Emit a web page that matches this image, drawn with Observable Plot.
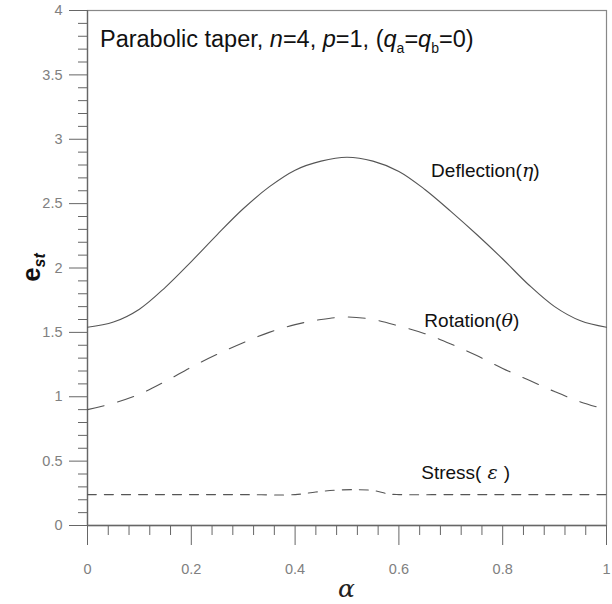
<!DOCTYPE html>
<html>
<head>
<meta charset="utf-8">
<script src="https://cdn.jsdelivr.net/npm/d3@7"></script>
<script src="https://cdn.jsdelivr.net/npm/@observablehq/plot@0.6"></script>
<style>
  html, body { margin: 0; padding: 0; background: #fff; }
  #chart { width: 612px; height: 604px; }
  svg { font-family: "Liberation Sans", Arial, sans-serif; }
</style>
</head>
<body>
<div id="chart"></div>
<script>
// --- data ---
const alpha = [0, 0.05, 0.1, 0.15, 0.2, 0.25, 0.3, 0.35, 0.4, 0.45, 0.5, 0.55, 0.6, 0.65, 0.7, 0.75, 0.8, 0.85, 0.9, 0.95, 1];
const deflection = [1.54, 1.58, 1.68, 1.85, 2.05, 2.26, 2.46, 2.63, 2.76, 2.83, 2.86, 2.83, 2.75, 2.61, 2.44, 2.26, 2.07, 1.87, 1.70, 1.59, 1.54];
const rotation = [0.90, 0.95, 1.02, 1.12, 1.23, 1.33, 1.42, 1.50, 1.56, 1.60, 1.62, 1.60, 1.55, 1.49, 1.41, 1.32, 1.22, 1.13, 1.04, 0.96, 0.90];
const stressAlpha = [0, 0.1, 0.2, 0.3, 0.4, 0.44, 0.48, 0.52, 0.55, 0.58, 0.6, 0.7, 0.8, 0.9, 1];
const stress = [0.24, 0.24, 0.24, 0.24, 0.24, 0.26, 0.275, 0.278, 0.272, 0.245, 0.24, 0.24, 0.24, 0.24, 0.24];
const xMajor = [0, 0.2, 0.4, 0.6, 0.8, 1];
const xTickLabels = ["0", "0.2", "0.4", "0.6", "0.8", "1"];
const xMinor = d3.range(0, 26).map(i => i * 0.04).filter(v => Math.round(v * 100) % 20 !== 0);
const yMajor = [0, 0.5, 1, 1.5, 2, 2.5, 3, 3.5, 4];
const yTickLabels = ["0", "0.5", "1", "1.5", "2", "2.5", "3", "3.5", "4"];
const yMinor = d3.range(0, 41).map(i => i / 10).filter(v => Math.round(v * 10) % 5 !== 0);

const defl = alpha.map((a, i) => ({a, v: deflection[i]}));
const rot = alpha.map((a, i) => ({a, v: rotation[i]}));
const str = stressAlpha.map((a, i) => ({a, v: stress[i]}));

const gray = "#666";
const tickGray = "#808080";

const plot = Plot.plot({
  width: 612,
  height: 604,
  marginLeft: 87,
  marginRight: 6,
  marginTop: 10,
  marginBottom: 79,
  x: {domain: [0, 1]},
  y: {domain: [0, 4]},
  style: {fontFamily: "Liberation Sans, Arial, sans-serif", background: "#fff"},
  marks: [
    Plot.frame({stroke: "#888", strokeWidth: 1.2}),
    Plot.axisX({ticks: xMajor, tickSize: 20, tickFormat: () => "", stroke: gray, label: null}),
    Plot.axisX({ticks: xMinor, tickSize: 10, tickFormat: () => "", stroke: gray, label: null}),
    Plot.axisY({ticks: yMajor, tickSize: 18, tickFormat: () => "", stroke: gray, label: null}),
    Plot.axisY({ticks: yMinor, tickSize: 9, tickFormat: () => "", stroke: gray, label: null}),
    Plot.text(xMajor, {x: d => d, text: (d, i) => xTickLabels[i], frameAnchor: "bottom", dy: 48, fontSize: 14.5, fill: tickGray}),
    Plot.text(yMajor, {y: d => d, text: (d, i) => yTickLabels[i], frameAnchor: "left", dx: -25, textAnchor: "end", fontSize: 14.5, fill: tickGray}),
    Plot.ruleX([0], {stroke: gray, strokeWidth: 1.3}),
    Plot.ruleY([0], {stroke: gray, strokeWidth: 1.3}),
    Plot.line(defl, {x: "a", y: "v", stroke: "#555", strokeWidth: 1.1, curve: "catmull-rom"}),
    Plot.line(rot, {x: "a", y: "v", stroke: "#555", strokeWidth: 1.1, strokeDasharray: "17,14", curve: "catmull-rom"}),
    Plot.line(str, {x: "a", y: "v", stroke: "#555", strokeWidth: 1.1, strokeDasharray: "9,8", curve: "catmull-rom"})
  ]
});

document.getElementById("chart").appendChild(plot);

const xs = plot.scale("x"), ys = plot.scale("y");
const svg = d3.select(plot);
const font = "Liberation Sans, Arial, sans-serif";

// title
const t = svg.append("text")
  .attr("x", xs.apply(0.025)).attr("y", ys.apply(3.71))
  .attr("text-anchor", "start")
  .attr("font-size", 23.5).attr("font-family", font).attr("fill", "#111");
t.append("tspan").text("Parabolic taper, ");
t.append("tspan").attr("font-style", "italic").text("n");
t.append("tspan").text("=4, ");
t.append("tspan").attr("font-style", "italic").text("p");
t.append("tspan").text("=1, (");
t.append("tspan").attr("font-style", "italic").text("q");
t.append("tspan").attr("font-size", 14).attr("dy", 6).text("a");
t.append("tspan").attr("dy", -6).text("=");
t.append("tspan").attr("font-style", "italic").text("q");
t.append("tspan").attr("font-size", 14).attr("dy", 6).text("b");
t.append("tspan").attr("dy", -6).text("=0)");

// curve labels
function label(ax, ay, name, greek) {
  const e = svg.append("text")
    .attr("x", xs.apply(ax)).attr("y", ys.apply(ay))
    .attr("text-anchor", "start")
    .attr("font-size", 19).attr("font-family", font).attr("fill", "#111");
  e.append("tspan").text(name + "(");
  e.append("tspan").attr("font-style", "italic").attr("font-family", "DejaVu Serif, serif").text(greek);
  e.append("tspan").text(")");
}
label(0.663, 2.70, "Deflection", "η");
label(0.650, 1.535, "Rotation", "θ");
label(0.644, 0.36, "Stress", " ε ");

// y-axis label
const yl = svg.append("text")
  .attr("transform", `translate(40, ${ys.apply(2.0)}) rotate(-90)`)
  .attr("text-anchor", "middle")
  .attr("font-family", font).attr("font-weight", "bold").attr("fill", "#111");
yl.append("tspan").attr("font-size", 26).text("e");
yl.append("tspan").attr("font-size", 16).attr("font-style", "italic").attr("dy", 5).text("st");

// x-axis label
svg.append("text")
  .attr("x", xs.apply(0.5)).attr("y", 597)
  .attr("text-anchor", "middle")
  .attr("font-size", 25).attr("font-style", "italic").attr("font-family", "DejaVu Serif, serif").attr("fill", "#222")
  .text("α");
</script>
</body>
</html>
